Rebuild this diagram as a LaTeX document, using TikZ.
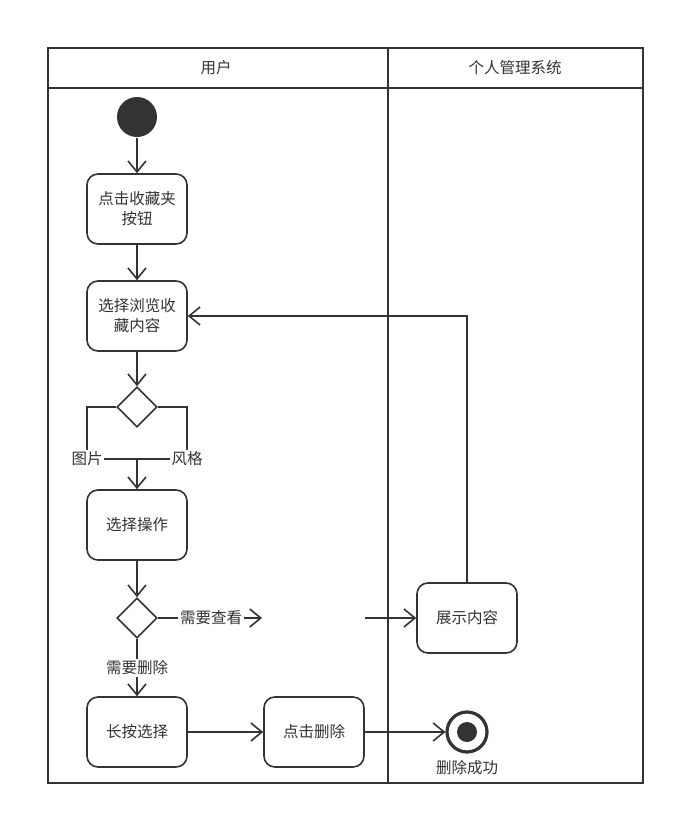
\documentclass[tikz,border=0pt]{standalone}
\usepackage{fontspec}
\setmainfont{Noto Sans CJK SC}
\usetikzlibrary{shapes.geometric,arrows.meta,positioning}
\definecolor{ink}{HTML}{333333}
\tikzset{%
  act/.style      = {draw=ink, line width=1.6pt, rectangle, rounded corners=11pt,
    minimum width=100pt, minimum height=70pt, align=center, inner sep=2pt},
  decide/.style   = {draw=ink, line width=1.6pt, diamond, minimum width=40pt,
    minimum height=40pt, inner sep=0pt}, % Decision
  startdot/.style = {circle, fill=ink, minimum size=40pt, inner sep=0pt}, % Start
  endring/.style  = {circle, draw=ink, line width=3.2pt, minimum size=40pt,
    inner sep=0pt}, % End
  enddot/.style   = {circle, fill=ink, minimum size=20pt, inner sep=0pt},
  lbl/.style      = {inner sep=1pt},
  arr/.style      = {-{Straight Barb[length=11pt,width=18pt,line width=1.6pt]}}
}
\newcommand{\txt}{\fontsize{15.5}{20}\selectfont}

\begin{document}
\begin{tikzpicture}[x=1pt, y=-1pt, line width=1.6pt, draw=ink, text=ink,
    font=\txt, on grid]
        \useasboundingbox (0,0) rectangle (675,816);
        % swimlanes
        \draw (48,48) rectangle (643,783);
        \draw (48,88) -- (643,88);
        \draw (388,48) -- (388,783);
        \node at (216,68) {用户};
        \node at (515,68) {个人管理系统};

        \node [startdot] (start) at (137,117) {};
        \node [act, below=92pt of start] (press) {点击收藏夹\\按钮};
        \node [act, below=107pt of press] (browse) {选择浏览收\\藏内容};
        \node [decide, below=91pt of browse] (dec1) {};
        \node [lbl] (pic) at (87,459) {图片};
        \node [lbl] (style) at (187,459) {风格};
        \node [act, below=118pt of dec1] (choose) {选择操作};
        \node [decide, below=93pt of choose] (dec2) {};
        \node [lbl, right=74pt of dec2] (look) {需要查看};
        \coordinate [right=125pt of dec2] (lookend);
        \coordinate [right=228pt of dec2] (lookgap);
        \node [lbl, below=50pt of dec2] (del) {需要删除};
        \node [act, below=114pt of dec2] (hold) {长按选择};
        \node [act, right=177pt of hold] (tapdel) {点击删除};
        \node [act, right=330pt of dec2] (show) {展示内容};
        \node [endring, right=330pt of hold] (finish) {};
        \node [enddot] at (finish) {};
        \node [lbl, below=36pt of finish] (done) {删除成功};

        \draw[arr] (start) -- (press);
        \draw[arr] (press) -- (browse);
        \draw[arr] (browse) -- (dec1);
        \draw (dec1.west) -| (pic.north);
        \draw (dec1.east) -| (style.north);
        \draw (pic.east) -- (style.west);
        \draw[arr] (dec1 |- pic) -- (choose);
        \draw[arr] (choose) -- (dec2);
        \draw (dec2.east) -- (look.west);
        \draw[arr] (look.east) -- (lookend);
        \draw[arr] (lookgap) -- (show);
        \draw (dec2.south) -- (del.north);
        \draw[arr] (del.south) -- (hold);
        \draw[arr] (hold) -- (tapdel);
        \draw[arr] (tapdel) -- (finish);
        \draw[arr] (show.north) |- (browse.east);
\end{tikzpicture}
\end{document}
